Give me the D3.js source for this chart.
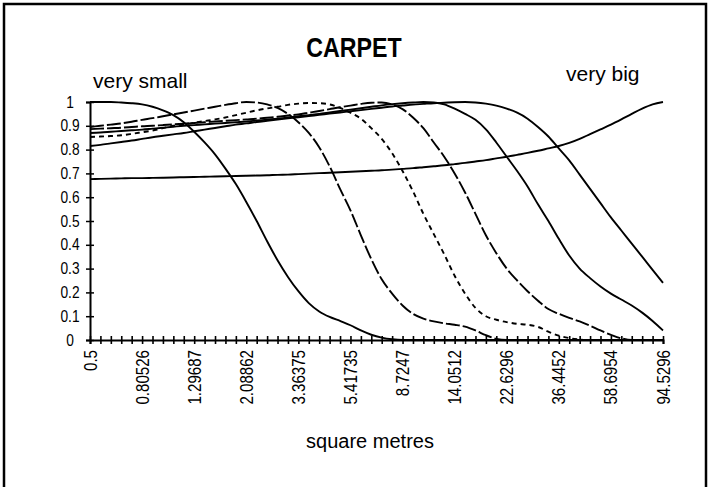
<!DOCTYPE html>
<html>
<head>
<meta charset="utf-8">
<script src="https://cdn.jsdelivr.net/npm/d3@7"></script>
<style>
  html, body { margin: 0; padding: 0; background: #fff; }
  svg { display: block; }
  text { font-family: "Liberation Sans", Arial, sans-serif; fill: #000; }
</style>
</head>
<body>
<svg id="chart" width="711" height="487"></svg>
<script>
// ---- data ----
const categories = [0.5, 0.55, 0.605, 0.6655, 0.73205, 0.805255, 0.88578, 0.974359, 1.07179, 1.17897,
  1.29687, 1.42656, 1.56921, 1.72614, 1.89875, 2.08862, 2.29749, 2.52724, 2.77996, 3.05795,
  3.36375, 3.70012, 4.07014, 4.47715, 4.92487, 5.41735, 5.95909, 6.555, 7.2105, 7.93155,
  8.7247, 9.59717, 10.5569, 11.6126, 12.7738, 14.0512, 15.4563, 17.002, 18.7022, 20.5724,
  22.6296, 24.8926, 27.3818, 30.12, 33.132, 36.4452, 40.0898, 44.0987, 48.5086, 53.3595,
  58.6954, 64.565, 71.0215, 78.1236, 85.936, 94.5296];
const xTickLabels = ["0.5", "0.80526", "1.29687", "2.08862", "3.36375", "5.41735",
  "8.7247", "14.0512", "22.6296", "36.4452", "58.6954", "94.5296"];
const yTickValues = [0, 0.1, 0.2, 0.3, 0.4, 0.5, 0.6, 0.7, 0.8, 0.9, 1];
const yTickLabels = ["0", "0.1", "0.2", "0.3", "0.4", "0.5", "0.6", "0.7", "0.8", "0.9", "1"];

const verySmall = [1.0, 1.0, 1.0, 0.998, 0.995, 0.99, 0.98, 0.965, 0.945, 0.915,
  0.875, 0.83, 0.78, 0.72, 0.655, 0.58, 0.5, 0.415, 0.335, 0.265,
  0.205, 0.155, 0.12, 0.097, 0.08, 0.062, 0.04, 0.022, 0.01, 0.003,
  0, 0, 0, 0, 0, 0, 0, 0, 0, 0, 0, 0, 0, 0, 0, 0, 0, 0, 0, 0, 0, 0, 0, 0, 0, 0];
const small = [0.895, 0.9, 0.905, 0.91, 0.917, 0.925, 0.932, 0.94, 0.948, 0.956,
  0.964, 0.972, 0.98, 0.988, 0.995, 1.0, 0.998, 0.99, 0.975, 0.95,
  0.915, 0.87, 0.81, 0.73, 0.635, 0.545, 0.44, 0.34, 0.255, 0.195,
  0.145, 0.11, 0.09, 0.078, 0.07, 0.064, 0.056, 0.04, 0.02, 0.005,
  0, 0, 0, 0, 0, 0, 0, 0, 0, 0, 0, 0, 0, 0, 0, 0];
const medSmall = [0.853, 0.855, 0.857, 0.86, 0.866, 0.873, 0.88, 0.89, 0.9, 0.906,
  0.913, 0.92, 0.927, 0.935, 0.945, 0.955, 0.965, 0.973, 0.98, 0.988,
  0.993, 0.996, 0.995, 0.99, 0.975, 0.955, 0.93, 0.89, 0.845, 0.785,
  0.71, 0.625, 0.53, 0.445, 0.36, 0.27, 0.195, 0.135, 0.1, 0.085,
  0.075, 0.068, 0.064, 0.055, 0.035, 0.018, 0.008, 0.002, 0, 0, 0, 0, 0, 0, 0, 0];
const medium = [0.886, 0.888, 0.89, 0.892, 0.895, 0.898, 0.9, 0.903, 0.906, 0.909,
  0.912, 0.915, 0.918, 0.921, 0.924, 0.927, 0.93, 0.934, 0.938, 0.943,
  0.948, 0.955, 0.962, 0.97, 0.978, 0.985, 0.992, 0.997, 0.998, 0.99,
  0.97, 0.935, 0.89, 0.83, 0.77, 0.7, 0.62, 0.53, 0.44, 0.365,
  0.3, 0.25, 0.205, 0.165, 0.13, 0.11, 0.093, 0.078, 0.06, 0.04,
  0.022, 0.007, 0, 0, 0, 0];
const medBig = [0.87, 0.872, 0.875, 0.878, 0.881, 0.884, 0.888, 0.892, 0.896, 0.9,
  0.903, 0.906, 0.909, 0.912, 0.915, 0.918, 0.922, 0.926, 0.93, 0.935,
  0.94, 0.945, 0.95, 0.956, 0.962, 0.968, 0.974, 0.98, 0.986, 0.991,
  0.995, 0.998, 1.0, 0.998, 0.99, 0.972, 0.95, 0.925, 0.885, 0.83,
  0.77, 0.71, 0.645, 0.57, 0.5, 0.425, 0.355, 0.3, 0.26, 0.225,
  0.195, 0.17, 0.145, 0.115, 0.08, 0.04];
const big = [0.815, 0.82, 0.826, 0.832, 0.838, 0.845, 0.852, 0.858, 0.864, 0.87,
  0.877, 0.884, 0.891, 0.898, 0.905, 0.91, 0.916, 0.921, 0.926, 0.931,
  0.936, 0.941, 0.946, 0.951, 0.956, 0.961, 0.966, 0.971, 0.976, 0.981,
  0.985, 0.989, 0.992, 0.995, 0.997, 0.999, 1.0, 0.998, 0.993, 0.985,
  0.972, 0.955, 0.93, 0.895, 0.855, 0.805, 0.755, 0.695, 0.635, 0.575,
  0.515, 0.46, 0.405, 0.35, 0.295, 0.24];
const veryBig = [0.676, 0.677, 0.678, 0.679, 0.68, 0.68, 0.681, 0.682, 0.683, 0.684,
  0.685, 0.686, 0.687, 0.688, 0.689, 0.69, 0.691, 0.692, 0.694, 0.695,
  0.697, 0.699, 0.701, 0.703, 0.705, 0.707, 0.709, 0.711, 0.713, 0.716,
  0.719, 0.722, 0.726, 0.73, 0.734, 0.739, 0.744, 0.75, 0.756, 0.763,
  0.77, 0.778, 0.786, 0.795, 0.805, 0.815, 0.828, 0.845, 0.865, 0.885,
  0.905, 0.927, 0.95, 0.972, 0.99, 1.0];

const series = [
  { name: "very small", values: verySmall, dash: null },
  { name: "small", values: small, dash: "14,3" },
  { name: "medium small", values: medSmall, dash: "5,4" },
  { name: "medium", values: medium, dash: "14,3" },
  { name: "medium big", values: medBig, dash: null },
  { name: "big", values: big, dash: null },
  { name: "very big", values: veryBig, dash: null }
];

// ---- layout ----
const svg = d3.select("#chart");
const plotL = 90, plotR = 663, plotT = 102, plotB = 340;

svg.append("rect").attr("x", 4).attr("y", 4).attr("width", 702).attr("height", 520)
  .attr("fill", "none").attr("stroke", "#000").attr("stroke-width", 2.5);

const x = d3.scalePoint().domain(categories).range([plotL, plotR]);
const y = d3.scaleLinear().domain([0, 1]).range([plotB, plotT]);

// title
svg.append("text").attr("transform", "translate(354,57) scale(0.86,1)")
  .attr("text-anchor", "middle").attr("font-size", 27).attr("font-weight", "bold").text("CARPET");

// y axis
const yAxis = d3.axisLeft(y).tickValues(yTickValues)
  .tickFormat((d, i) => yTickLabels[i]).tickSize(4).tickPadding(0);
const gy = svg.append("g").attr("transform", `translate(${plotL},0)`).call(yAxis);
gy.select(".domain").attr("stroke", "#000").attr("stroke-width", 2);
gy.selectAll(".tick line").attr("x1", -4).attr("x2", 4).attr("stroke-width", 1.5);
gy.selectAll(".tick text")
  .attr("x", null).attr("dy", null)
  .attr("text-anchor", "middle")
  .attr("font-size", 16)
  .attr("font-family", "Liberation Sans, Arial, sans-serif")
  .attr("transform", "translate(-20,5) scale(0.86,1)");

// x axis
const xAxis = d3.axisBottom(x).tickValues(categories)
  .tickFormat((d, i) => (i % 5 === 0 ? xTickLabels[i / 5] : "")).tickSize(4);
const gx = svg.append("g").attr("transform", `translate(0,${plotB})`).call(xAxis);
gx.select(".domain").attr("stroke", "#000").attr("stroke-width", 2);
gx.selectAll(".tick line").attr("y1", -4).attr("y2", 4).attr("stroke-width", 1.6);
gx.selectAll(".tick text")
  .attr("y", null).attr("dy", null)
  .attr("text-anchor", "end")
  .attr("font-size", 18)
  .attr("font-family", "Liberation Sans, Arial, sans-serif")
  .attr("transform", "translate(6,10) rotate(-90) scale(0.84,1)");

// lines
const line = d3.line()
  .x((d, i) => x(categories[i]))
  .y(d => y(d))
  .curve(d3.curveMonotoneX);

svg.append("g").selectAll("path").data(series).join("path")
  .attr("d", d => line(d.values))
  .attr("fill", "none")
  .attr("stroke", "#000")
  .attr("stroke-width", 1.9)
  .attr("stroke-dasharray", d => d.dash);

// annotations
svg.append("text").attr("x", 93).attr("y", 88).attr("font-size", 21).text("very small");
svg.append("text").attr("x", 566).attr("y", 81).attr("font-size", 21).text("very big");

// x axis title
svg.append("text").attr("x", 370).attr("y", 448).attr("text-anchor", "middle")
  .attr("font-size", 20).text("square metres");
</script>
</body>
</html>
